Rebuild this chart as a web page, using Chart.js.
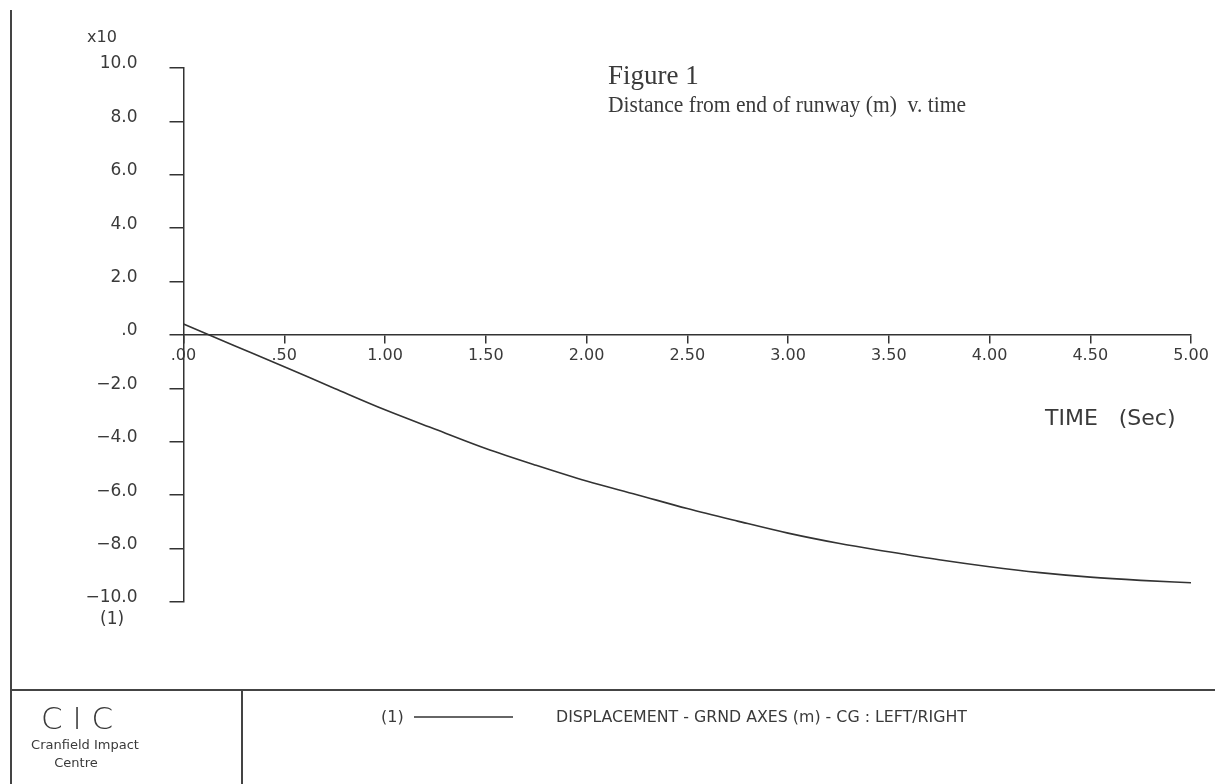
<!DOCTYPE html>
<html>
<head>
<meta charset="utf-8">
<title>Figure 1</title>
<script src="https://cdn.jsdelivr.net/npm/chart.js@4"></script>
<style>
html,body{margin:0;padding:0;background:#fff;}
#wrap{position:relative;width:1215px;height:784px;}
</style>
</head>
<body>
<div id="wrap"><canvas id="chartFig1" width="1215" height="784"></canvas></div>
<script>
// time (s) and displacement (x10 m)
const timeSec = [0, 0.25, 0.5, 0.75, 1.0, 1.25, 1.5, 1.75, 2.0, 2.25, 2.5, 2.75, 3.0, 3.25, 3.5, 3.75, 4.0, 4.25, 4.5, 4.75, 5.0];
const displacement = [0.41, -0.39, -1.19, -2.00, -2.80, -3.53, -4.25, -4.88, -5.47, -5.98, -6.50, -6.97, -7.42, -7.80, -8.12, -8.42, -8.68, -8.90, -9.07, -9.19, -9.28];

const yTicks = [-10, -8, -6, -4, -2, 0, 2, 4, 6, 8, 10];
const xTicks = [0, 0.5, 1, 1.5, 2, 2.5, 3, 3.5, 4, 4.5, 5];

const titleLines = ["Figure 1", "Distance from end of runway (m)  v. time"];
const xAxisTitle = "TIME   (Sec)";
const yScaleNote = "x10";
const curveTag = "(1)";
const legendText = "DISPLACEMENT - GRND AXES (m) - CG : LEFT/RIGHT";
const logoLines = ["C I C", "Cranfield Impact", "Centre"];

const INK = "#333";
const TEXT = "#3a3a3a";
const PLOT_FONT = "'DejaVu Sans', sans-serif";

function fmtY(v){
  if(v === 0) return ".0";
  return v.toFixed(1).replace("-", "\u2212");
}
function fmtX(v){
  if(v === 0) return ".00";
  if(v < 1) return v.toFixed(2).slice(1);
  return v.toFixed(2);
}

// frame, titles and the bottom caption box
const sheetPlugin = {
  id: "sheet",
  afterDraw(chart){
    const ctx = chart.ctx;
    ctx.save();

    ctx.strokeStyle = "#444";
    ctx.lineWidth = 2;
    ctx.beginPath();
    ctx.moveTo(11, 10); ctx.lineTo(11, 784);
    ctx.moveTo(11, 690); ctx.lineTo(1215, 690);
    ctx.moveTo(242, 690); ctx.lineTo(242, 784);
    ctx.stroke();

    ctx.fillStyle = TEXT;
    ctx.textBaseline = "alphabetic";
    ctx.textAlign = "left";

    ctx.font = "27px 'Liberation Serif', 'Times New Roman', serif";
    ctx.fillText(titleLines[0], 608, 84);
    ctx.font = "23px 'Liberation Serif', 'Times New Roman', serif";
    ctx.fillText(titleLines[1], 608, 112, 358);

    ctx.font = "16px " + PLOT_FONT;
    ctx.fillText(yScaleNote, 87, 42);
    ctx.font = "17px " + PLOT_FONT;
    ctx.fillText(curveTag, 100, 624);

    ctx.font = "22px " + PLOT_FONT;
    ctx.fillText(xAxisTitle, 1045, 425);

    // caption box
    ctx.font = "200 31px " + PLOT_FONT;
    ctx.textAlign = "center";
    ctx.fillText(logoLines[0], 77, 729);
    ctx.font = "13px " + PLOT_FONT;
    ctx.fillText(logoLines[1], 85, 749);
    ctx.fillText(logoLines[2], 76, 767);

    ctx.textAlign = "left";
    ctx.font = "16px " + PLOT_FONT;
    ctx.fillText(curveTag, 381, 722);
    ctx.fillText(legendText, 556, 722, 411);

    ctx.strokeStyle = INK;
    ctx.lineWidth = 1.5;
    ctx.beginPath();
    ctx.moveTo(414, 717); ctx.lineTo(513, 717);
    ctx.stroke();

    ctx.restore();
  }
};

const ctx = document.getElementById("chartFig1");

new Chart(ctx, {
  type: "line",
  data: {
    datasets: [{
      label: "DISPLACEMENT",
      data: timeSec.map((t, i) => ({x: t, y: displacement[i]})),
      borderColor: INK,
      borderWidth: 1.6,
      pointRadius: 0,
      fill: false,
      cubicInterpolationMode: "monotone"
    }]
  },
  options: {
    responsive: false,
    animation: false,
    layout: {padding: {left: 10, top: 68, right: 24, bottom: 182}},
    plugins: {legend: {display: false}, tooltip: {enabled: false}},
    scales: {
      x: {
        type: "linear",
        position: {y: 0},
        min: 0,
        max: 5,
        afterBuildTicks: s => { s.ticks = xTicks.map(v => ({value: v})); },
        border: {display: true, color: INK, width: 1.5},
        grid: {drawOnChartArea: false, drawTicks: true, tickLength: 8, color: INK, lineWidth: 1.5},
        ticks: {
          autoSkip: false,
          maxRotation: 0,
          padding: 3,
          color: TEXT,
          font: {family: PLOT_FONT, size: 16},
          callback: v => fmtX(v)
        }
      },
      y: {
        type: "linear",
        position: "left",
        min: -10,
        max: 10,
        afterBuildTicks: s => { s.ticks = yTicks.map(v => ({value: v})); },
        afterFit: s => { s.width = 173.5; },
        border: {display: true, color: INK, width: 1.5},
        grid: {drawOnChartArea: false, drawTicks: true, tickLength: 14, color: INK, lineWidth: 1.5},
        ticks: {
          autoSkip: false,
          padding: 32,
          labelOffset: -4,
          color: TEXT,
          font: {family: PLOT_FONT, size: 17},
          callback: v => fmtY(v)
        }
      }
    }
  },
  plugins: [sheetPlugin]
});
</script>
</body>
</html>
